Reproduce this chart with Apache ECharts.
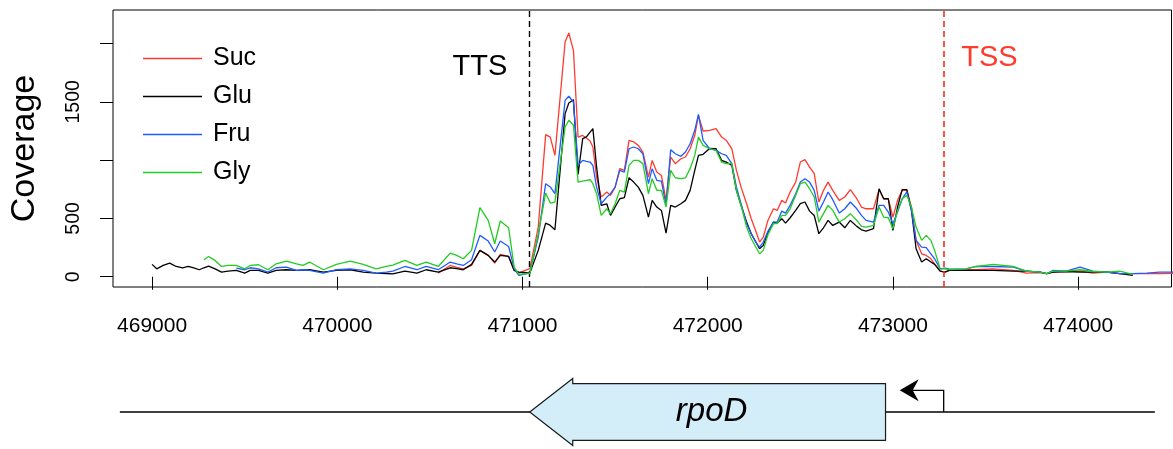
<!DOCTYPE html>
<html>
<head>
<meta charset="utf-8">
<title>rpoD coverage</title>
<script src="https://cdn.jsdelivr.net/npm/echarts@6/dist/echarts.min.js"></script>
<style>
  html, body { margin: 0; padding: 0; background: #fff; }
  #chart { width: 1173px; height: 449px; }
</style>
</head>
<body>
<div id="chart"></div>
<script>
// genome positions of the coverage points
const positions = [
  469000, 469025, 469060, 469095, 469130, 469165, 469195, 469225, 469255, 469280,
  469305, 469340, 469375, 469410, 469455, 469500, 469530, 469575, 469625, 469670,
  469725, 469780, 469815, 469850, 469925, 469995, 470070, 470140, 470210, 470265,
  470300, 470365, 470430, 470480, 470545, 470610, 470645, 470680, 470725, 470770,
  470815, 470850, 470880, 470925, 470955, 470980, 471040,
  471085, 471125, 471150, 471175, 471230, 471250, 471275, 471300, 471325, 471345,
  471365, 471380, 471400, 471425, 471455, 471475, 471500, 471525, 471550, 471575,
  471600, 471625, 471650, 471680, 471700, 471725, 471750, 471775, 471800, 471825,
  471855, 471880, 471905, 471930, 471950, 471975, 472010, 472045, 472075, 472100,
  472130, 472155, 472180, 472210, 472235, 472265, 472280, 472300, 472325, 472355,
  472375, 472400, 472420, 472445, 472475, 472500, 472525, 472550, 472575, 472600,
  472625, 472650, 472675, 472710, 472740, 472770, 472805, 472830, 472855, 472895,
  472925, 472950, 472975, 473000, 473025, 473050, 473075, 473100, 473125, 473155,
  473180, 473205, 473225, 473255, 473280,
  473305, 473395, 473450, 473540, 473650, 473720, 473795, 473830, 473865, 473935,
  474010, 474080, 474155, 474225, 474295, 474370, 474440, 474515
];

const suc = [
  null, null, null, null, null, null, null, null, null, null,
  null, null, null, null, null, null, null, null, null, null,
  null, null, null, null, null, null, null, null, null, null,
  null, null, null, null, 31, 97, 80, 68, 97, 226,
  183, 117, 191, 174, 54, 34, 69,
  426, 1219, 1198, 1041, 2014, 2091, 1942, 1198, 1212, 1190,
  1164, 1113, 855, 683, 726, 698, 769, 927, 912, 1170,
  1156, 1127, 1070, 855, 998, 898, 869, 655, 1027, 970,
  1012, 1027, 1098, 1213, 1384, 1250, 1256, 1270, 1198, 1170,
  1098, 912, 769, 626, 497, 369, 297, 340, 483, 583,
  569, 655, 632, 727, 812, 984, 1004, 941, 884, 641,
  741, 812, 741, 655, 684, 747, 669, 598, 583, 583,
  747, 669, 669, 512, 655, 741, 741, 598, 312, 197,
  183, 154, 111, 48, 40,
  55, 60, 60, 68, 54, 31, 35, 26, 40, 45,
  48, 31, 40, 26, 26, 26, 26, 30
];

const glu = [
  106, 68, 97, 117, 88, 77, 88, 77, 60, 77,
  91, 68, 40, 48, 54, 31, 54, 54, 31, 54,
  60, 54, 57, 60, 40, 54, 60, 40, 31, 28,
  25, 48, 31, 60, 40, 77, 70, 60, 106, 226,
  183, 126, 183, 174, 54, 40, 34,
  226, 460, 440, 403, 1399, 1490, 1519, 878, 1184, 1199,
  1240, 1270, 941, 612, 626, 526, 598, 669, 678, 849,
  812, 769, 698, 512, 655, 598, 569, 375, 612, 598,
  626, 655, 741, 912, 1041, 1050, 1100, 1098, 998, 984,
  955, 741, 612, 469, 369, 283, 240, 269, 380, 469,
  460, 498, 460, 506, 569, 627, 641, 563, 526, 369,
  420, 483, 440, 469, 420, 483, 432, 403, 392, 412,
  755, 669, 669, 397, 598, 747, 747, 569, 240, 126,
  154, 126, 106, 48, 40,
  55, 54, 54, 54, 48, 48, 40, 26, 40, 45,
  40, 40, 40, 26, 11, null, null, null
];

const fru = [
  null, null, null, null, null, null, null, null, null, null,
  null, null, null, null, 74, 60, 77, 68, 40, 77,
  83, 54, 60, 54, 31, 60, 68, 54, 31, 40,
  48, 88, 60, 88, 60, 126, 110, 97, 146, 355,
  306, 212, 306, 260, 69, 11, 34,
  340, 798, 770, 712, 1513, 1548, 1499, 955, 998, 990,
  984, 955, 769, 626, 683, 712, 769, 912, 898, 1098,
  1113, 1098, 1055, 798, 927, 827, 821, 612, 1090, 1055,
  1033, 1070, 1141, 1256, 1393, 1170, 1098, 1084, 1055, 1041,
  970, 769, 626, 455, 369, 283, 254, 297, 390, 469,
  469, 563, 546, 612, 712, 812, 841, 812, 741, 563,
  641, 727, 661, 546, 583, 641, 583, 526, 483, 469,
  612, 612, 555, 455, 555, 669, 727, 569, 312, 254,
  249, 197, 154, 68, 74,
  65, 68, 88, 88, 83, 48, 40, 26, 54, 48,
  83, 48, 40, 26, 26, 31, 40, 40
];

const gly = [
  null, null, null, null, null, null, null, null, null, 146,
  174, 140, 88, 97, 97, 68, 97, 103, 60, 111,
  134, 111, 97, 126, 60, 106, 134, 106, 68, 88,
  100, 140, 97, 126, 88, 203, 183, 154, 226, 592,
  483, 283, 478, 420, 83, 20, 30,
  369, 718, 632, 641, 1284, 1342, 1299, 812, 821, 826,
  832, 798, 712, 526, 583, 540, 626, 741, 726, 955,
  998, 998, 970, 712, 841, 741, 741, 598, 912, 849,
  841, 849, 927, 1041, 1198, 1127, 1098, 1084, 984, 970,
  970, 741, 612, 426, 326, 240, 197, 226, 360, 455,
  455, 526, 526, 583, 698, 798, 812, 755, 684, 469,
  541, 612, 569, 469, 498, 541, 483, 432, 426, 440,
  598, 512, 506, 412, 569, 669, 698, 598, 426, 312,
  355, 312, 226, 68, 68,
  62, 68, 88, 106, 88, 48, 40, 26, 48, 48,
  60, 45, 40, 48, 20, null, null, null
];

const seriesNames = ['Suc', 'Glu', 'Fru', 'Gly'];
const xTicks = [469000, 470000, 471000, 472000, 473000, 474000];
const yTicks = [0, 500, 1000, 1500, 2000];
const yLabels = [0, 500, 1500];

// annotation positions (bp)
const ttsPos = 471039;
const tssPos = 473274;
const geneName = 'rpoD';
const geneLeft = 471039;
const geneRight = 472960;
const trackStart = 468826;
const trackEnd = 474414;

const xMin = 468789, xMax = 474504;
const yMin = -88, yMax = 2288;

const FONT = '"Liberation Sans", Arial, Helvetica, sans-serif';
const colors = ['#ff3a2e', '#000000', '#1f5bff', '#22cc22'];
const values = [suc, glu, fru, gly];

const chart = echarts.init(document.getElementById('chart'));

const lineSeries = seriesNames.map((name, k) => ({
  name: name,
  type: 'line',
  xAxisIndex: 0,
  yAxisIndex: 0,
  data: positions.map((p, i) => [p, values[k][i]]),
  symbol: 'none',
  connectNulls: false,
  lineStyle: { width: 1.3, color: colors[k] },
  itemStyle: { color: colors[k] },
  z: 2 + k,
}));

lineSeries[0].markLine = {
  silent: true,
  symbol: ['none', 'none'],
  label: { show: false },
  emphasis: { disabled: true },
  data: [
    { xAxis: ttsPos, lineStyle: { color: '#000', type: [6, 4], width: 1.4, opacity: 1 } },
    { xAxis: tssPos, lineStyle: { color: '#ff2a1e', type: [6, 4], width: 1.6, opacity: 1 } },
  ],
};
lineSeries[0].markPoint = {
  silent: true,
  symbol: 'circle',
  symbolSize: 1,
  itemStyle: { color: 'rgba(0,0,0,0)' },
  data: [
    { coord: [ttsPos, 1800], label: { show: true, formatter: 'TTS', position: 'left', distance: 22, color: '#000', fontSize: 29, fontFamily: FONT } },
    { coord: [tssPos, 1875], label: { show: true, formatter: 'TSS', position: 'right', distance: 17, color: '#ff3a2e', fontSize: 29, fontFamily: FONT } },
  ],
};

const trackSeries = {
  type: 'custom',
  xAxisIndex: 1,
  yAxisIndex: 1,
  silent: true,
  clip: false,
  data: [[trackStart, trackEnd]],
  renderItem: (params, api) => {
    const a = api.coord([api.value(0), 0]);
    const b = api.coord([api.value(1), 0]);
    return {
      type: 'line',
      shape: { x1: a[0], y1: a[1], x2: b[0], y2: b[1] },
      style: { stroke: '#000', lineWidth: 1.3 },
    };
  },
};

const geneSeries = {
  type: 'custom',
  xAxisIndex: 1,
  yAxisIndex: 1,
  silent: true,
  clip: false,
  data: [[geneLeft, geneRight]],
  renderItem: (params, api) => {
    const tip = api.coord([api.value(0), 0]);
    const end = api.coord([api.value(1), 0]);
    const cy = tip[1];
    const hx = tip[0] + 43;
    const headH = 33.5, bodyH = 28.3;
    return {
      type: 'group',
      children: [
        {
          type: 'polygon',
          shape: {
            points: [
              [tip[0], cy], [hx, cy - headH], [hx, cy - bodyH], [end[0], cy - bodyH],
              [end[0], cy + bodyH], [hx, cy + bodyH], [hx, cy + headH],
            ],
          },
          style: { fill: '#d3eef9', stroke: '#1a1a1a', lineWidth: 1.2 },
        },
        {
          type: 'text',
          style: {
            text: geneName,
            x: (tip[0] + end[0]) / 2 + 4,
            y: cy,
            align: 'center',
            verticalAlign: 'middle',
            textAlign: 'center',
            textVerticalAlign: 'middle',
            font: 'italic 33px ' + FONT,
            fill: '#000',
          },
        },
      ],
    };
  },
};

const promoterSeries = {
  type: 'custom',
  xAxisIndex: 1,
  yAxisIndex: 1,
  silent: true,
  clip: false,
  data: [[tssPos]],
  renderItem: (params, api) => {
    const p = api.coord([api.value(0), 0]);
    const top = p[1] - 21.7;
    const tipX = p[0] - 44;
    return {
      type: 'group',
      children: [
        {
          type: 'polyline',
          shape: { points: [[p[0], p[1]], [p[0], top], [tipX + 10, top]] },
          style: { stroke: '#000', lineWidth: 1.3, fill: null },
        },
        {
          type: 'polygon',
          shape: { points: [[tipX, top], [tipX + 19, top - 11], [tipX + 13, top], [tipX + 19, top + 11]] },
          style: { fill: '#000' },
        },
      ],
    };
  },
};

chart.setOption({
  animation: false,
  backgroundColor: '#fff',
  textStyle: { fontFamily: FONT },
  legend: {
    data: seriesNames,
    orient: 'vertical',
    left: 138,
    top: 41,
    icon: 'rect',
    itemWidth: 59,
    itemHeight: 1.5,
    itemGap: 13,
    selectedMode: false,
    textStyle: { fontSize: 25, color: '#000', fontFamily: FONT, lineHeight: 25, padding: [0, 0, 0, 6] },
  },
  grid: [
    { left: 113, right: 1.5, top: 10, height: 277, show: true, borderColor: '#000', borderWidth: 1 },
    { left: 113, right: 1.5, top: 375, height: 80 },
  ],
  xAxis: [
    {
      type: 'value',
      gridIndex: 0,
      min: xMin,
      max: xMax,
      axisLine: { show: false },
      splitLine: { show: false },
      axisTick: { show: true, length: 13, customValues: xTicks, lineStyle: { color: '#000', width: 1 } },
      axisLabel: { customValues: xTicks, formatter: v => String(v), fontSize: 21, color: '#000', margin: 29, fontFamily: FONT },
    },
    { type: 'value', gridIndex: 1, min: xMin, max: xMax, show: false },
  ],
  yAxis: [
    {
      type: 'value',
      gridIndex: 0,
      min: yMin,
      max: yMax,
      name: 'Coverage',
      nameLocation: 'middle',
      nameRotate: 90,
      nameGap: 71,
      nameTextStyle: { fontSize: 34, color: '#000', fontFamily: FONT },
      axisLine: { show: false },
      splitLine: { show: false },
      axisTick: { show: true, length: 13, customValues: yTicks, lineStyle: { color: '#000', width: 1 } },
      axisLabel: { customValues: yLabels, formatter: v => String(v), rotate: 90, fontSize: 19.5, color: '#000', margin: 29, fontFamily: FONT },
    },
    { type: 'value', gridIndex: 1, min: -1, max: 1, show: false },
  ],
  series: [...lineSeries, trackSeries, geneSeries, promoterSeries],
});
</script>
</body>
</html>
